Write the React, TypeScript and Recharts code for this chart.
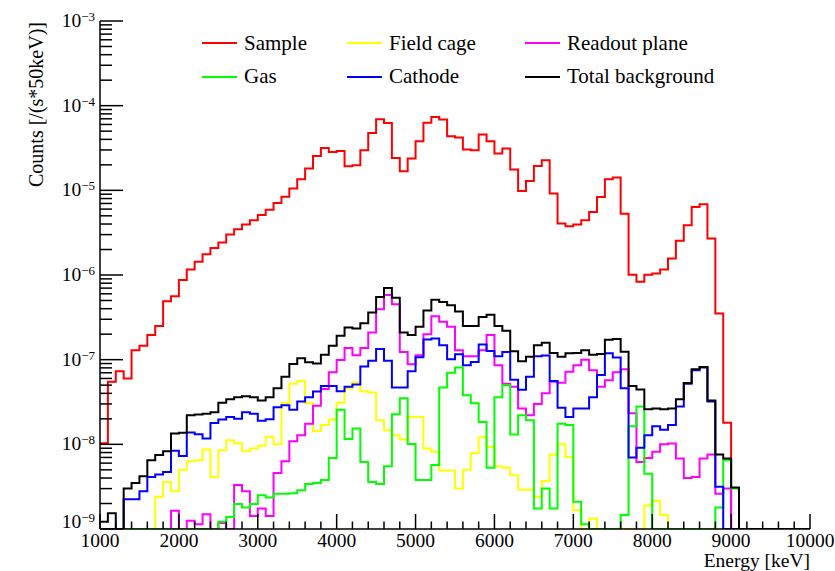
import React from 'react';
import { LineChart, Line, XAxis, YAxis, Legend } from 'recharts';

// ---------- data (bins of 100 keV, lower edges 1000 ... 9900) ----------
const ENERGY_MIN = 1000;
const ENERGY_MAX = 10000;
const BIN_WIDTH = 100;

const sample = [
  1.03e-8, 5.5e-8, 7.3e-8, 6.0e-8, 1.29e-7, 1.46e-7, 1.95e-7, 2.5e-7, 4.9e-7, 5.6e-7,
  8.7e-7, 1.16e-6, 1.43e-6, 1.76e-6, 2.09e-6, 2.42e-6, 3.0e-6, 3.47e-6, 3.95e-6, 4.44e-6,
  5.1e-6, 5.9e-6, 7.1e-6, 8.4e-6, 1.05e-5, 1.35e-5, 1.81e-5, 2.55e-5, 3.17e-5, 2.84e-5,
  2.92e-5, 1.93e-5, 1.98e-5, 2.97e-5, 4.76e-5, 6.9e-5, 6.25e-5, 2.41e-5, 1.68e-5, 2.37e-5,
  3.8e-5, 6.3e-5, 7.36e-5, 6.85e-5, 4.35e-5, 4.2e-5, 3.03e-5, 2.97e-5, 4.56e-5, 3.8e-5,
  2.72e-5, 3.12e-5, 1.76e-5, 9.8e-6, 1.29e-5, 1.94e-5, 2.26e-5, 9.2e-6, 4.06e-6, 3.77e-6,
  3.95e-6, 4.44e-6, 5.56e-6, 8.36e-6, 1.35e-5, 1.42e-5, 5.3e-6, 1.01e-6, 8.3e-7, 1.01e-6,
  1.04e-6, 1.16e-6, 1.57e-6, 2.53e-6, 3.87e-6, 6.37e-6, 6.86e-6, 2.7e-6, 3.5e-7, 1.8e-8,
  0, 0, 0, 0, 0, 0, 0, 0, 0, 0,
];

const fieldCage = [
  0, 0, 0, 0, 0, 0, 0, 2.4e-9, 3.6e-9, 2.8e-9,
  5.0e-9, 6.3e-9, 6.5e-9, 8.7e-9, 4.1e-9, 8.5e-9, 1.12e-8, 1.03e-8, 8.3e-9, 8.9e-9,
  9.6e-9, 1.23e-8, 1.0e-8, 3.06e-8, 5.2e-8, 5.6e-8, 3.06e-8, 1.43e-8, 1.69e-8, 1.97e-8,
  3.1e-8, 4.55e-8, 5.4e-8, 4.25e-8, 4.1e-8, 1.93e-8, 1.47e-8, 1.28e-8, 1.14e-8, 2.1e-8,
  2.1e-8, 8.9e-9, 8.2e-9, 4.9e-9, 4.9e-9, 3.0e-9, 5.0e-9, 7.9e-9, 1.21e-8, 9.3e-9,
  5.5e-9, 5.3e-9, 4.3e-9, 2.9e-9, 2.9e-9, 2.4e-9, 3.7e-9, 7.6e-9, 1.0e-8, 7.1e-9,
  1.67e-9, 0, 1.33e-9, 0, 0, 0, 0, 0, 0, 1.9e-9,
  2.15e-9, 1.46e-9, 0, 0, 0, 0, 0, 0, 0, 0,
  0, 0, 0, 0, 0, 0, 0, 0, 0, 0,
];

const readoutPlane = [
  0, 0, 0, 0, 0, 0, 0, 0, 0, 1.64e-9,
  0, 1.25e-9, 1.14e-9, 1.49e-9, 0, 1.18e-9, 0, 3.3e-9, 2.8e-9, 1.42e-9,
  1.75e-9, 1.42e-9, 4.6e-9, 6.3e-9, 1.09e-8, 1.28e-8, 1.75e-8, 2.86e-8, 4.5e-8, 7.1e-8,
  9.9e-8, 1.37e-7, 1.13e-7, 1.37e-7, 2.1e-7, 3.95e-7, 5.8e-7, 4.5e-7, 1.23e-7, 8.85e-8,
  1.13e-7, 2.0e-7, 3.26e-7, 2.8e-7, 2.44e-7, 1.29e-7, 1.1e-7, 1.1e-7, 1.29e-7, 1.95e-7,
  8.6e-8, 5.2e-8, 4.8e-8, 2.65e-8, 2.2e-8, 3.0e-8, 4.0e-8, 5.5e-8, 5.35e-8, 7.2e-8,
  8.6e-8, 1.0e-7, 7.5e-8, 4.8e-8, 5.7e-8, 7.1e-8, 7.7e-8, 2.33e-8, 6.2e-9, 6.9e-9,
  8.2e-9, 1.0e-8, 1.02e-8, 6.8e-9, 4.0e-9, 4.1e-9, 6.8e-9, 7.6e-9, 2.6e-9, 3.0e-9,
  0, 0, 0, 0, 0, 0, 0, 0, 0, 0,
];

const gas = [
  0, 0, 0, 0, 0, 0, 0, 0, 0, 0,
  0, 0, 0, 0, 0, 1.22e-9, 1.39e-9, 1.97e-9, 1.8e-9, 1.97e-9,
  2.5e-9, 2.36e-9, 2.6e-9, 2.6e-9, 2.65e-9, 2.86e-9, 3.4e-9, 3.5e-9, 3.8e-9, 6.9e-9,
  2.57e-8, 1.16e-8, 1.54e-8, 6.2e-9, 3.6e-9, 3.4e-9, 5.5e-9, 2.27e-8, 3.5e-8, 1.01e-8,
  3.8e-9, 3.8e-9, 5.7e-9, 4.7e-8, 7.0e-8, 8.1e-8, 3.8e-8, 3.05e-8, 1.84e-8, 5.3e-9,
  3.6e-8, 5.0e-8, 1.31e-8, 2.2e-8, 1.93e-8, 1.75e-9, 3.0e-9, 1.75e-9, 1.75e-8, 1.69e-8,
  2.1e-9, 1.14e-9, 0, 0, 0, 0, 1.46e-9, 1.64e-8, 2.8e-8, 4.5e-9,
  0, 0, 0, 0, 0, 0, 0, 0, 1.8e-9, 6.5e-9,
  3.0e-9, 0, 0, 0, 0, 0, 0, 0, 0, 0,
];

const cathode = [
  0, 0, 0, 2.24e-9, 2.24e-9, 2.8e-9, 4.1e-9, 4.4e-9, 4.7e-9, 8.4e-9,
  7.3e-9, 1.38e-8, 1.32e-8, 1.17e-8, 1.79e-8, 1.97e-8, 2.1e-8, 2.0e-8, 2.4e-8, 2.3e-8,
  1.9e-8, 1.98e-8, 2.75e-8, 2.9e-8, 2.57e-8, 3.2e-8, 3.6e-8, 4.2e-8, 4.9e-8, 4.9e-8,
  4.25e-8, 4.8e-8, 5.1e-8, 8.3e-8, 9.7e-8, 1.34e-7, 9.7e-8, 4.7e-8, 4.7e-8, 7.3e-8,
  1.07e-7, 1.73e-7, 1.78e-7, 1.48e-7, 1.01e-7, 1.16e-7, 8.6e-8, 9.4e-8, 1.51e-7, 1.27e-7,
  1.1e-7, 1.23e-7, 5.8e-8, 4.4e-8, 6.3e-8, 1.1e-7, 1.12e-7, 5.6e-8, 2.7e-8, 2.1e-8,
  2.65e-8, 2.65e-8, 3.6e-8, 6.6e-8, 1.19e-7, 1.06e-7, 4.6e-8, 7.0e-9, 9.1e-9, 1.28e-8,
  1.64e-8, 1.49e-8, 1.69e-8, 2.8e-8, 5.2e-8, 7.5e-8, 8.1e-8, 3.2e-8, 3.15e-9, 0,
  0, 0, 0, 0, 0, 0, 0, 0, 0, 0,
];

const totalBackground = [
  1.22e-9, 1.53e-9, 0, 3.0e-9, 3.5e-9, 4.2e-9, 6.5e-9, 7.5e-9, 8.3e-9, 1.34e-8,
  1.37e-8, 2.2e-8, 2.25e-8, 2.3e-8, 2.4e-8, 3.1e-8, 3.4e-8, 3.6e-8, 3.7e-8, 3.6e-8,
  3.3e-8, 3.6e-8, 4.6e-8, 6.3e-8, 8.9e-8, 1.04e-7, 9.3e-8, 9.0e-8, 1.14e-7, 1.46e-7,
  1.92e-7, 2.4e-7, 2.33e-7, 2.7e-7, 3.6e-7, 5.5e-7, 7.0e-7, 5.4e-7, 2.1e-7, 1.95e-7,
  2.44e-7, 3.8e-7, 5.1e-7, 4.8e-7, 4.4e-7, 3.7e-7, 2.5e-7, 2.5e-7, 3.2e-7, 3.4e-7,
  2.5e-7, 2.2e-7, 1.26e-7, 9.6e-8, 1.08e-7, 1.48e-7, 1.58e-7, 1.2e-7, 1.08e-7, 1.19e-7,
  1.2e-7, 1.29e-7, 1.14e-7, 1.17e-7, 1.72e-7, 1.76e-7, 1.24e-7, 4.9e-8, 4.45e-8, 2.6e-8,
  2.65e-8, 2.6e-8, 2.65e-8, 3.4e-8, 5.3e-8, 7.7e-8, 8.2e-8, 3.3e-8, 7.6e-9, 6.8e-9,
  3.1e-9, 0, 0, 0, 0, 0, 0, 0, 0, 0,
];

const xMajorTicks = [1000, 2000, 3000, 4000, 5000, 6000, 7000, 8000, 9000, 10000];
const yMajorTicks = [1e-9, 1e-8, 1e-7, 1e-6, 1e-5, 1e-4, 1e-3];

const seriesList = [
  { key: 'sample', name: 'Sample', color: '#ff0000', values: sample },
  { key: 'fieldCage', name: 'Field cage', color: '#ffff00', values: fieldCage },
  { key: 'readout', name: 'Readout plane', color: '#ff00ff', values: readoutPlane },
  { key: 'gas', name: 'Gas', color: '#00ff00', values: gas },
  { key: 'cathode', name: 'Cathode', color: '#0000ff', values: cathode },
  { key: 'total', name: 'Total background', color: '#000000', values: totalBackground },
];

// ---------- derived ----------
const Y_FLOOR = yMajorTicks[0];
const Y_CEIL = yMajorTicks[yMajorTicks.length - 1];
const Y_FLOOR_EXP = Math.round(Math.log10(Y_FLOOR));

const rows: any[] = [];
for (let i = 0; i <= sample.length; i++) {
  const row: any = { energy: ENERGY_MIN + i * BIN_WIDTH };
  for (const s of seriesList) {
    const v = s.values[Math.min(i, s.values.length - 1)];
    row[s.key] = v > 0 ? v : Y_FLOOR;
  }
  rows.push(row);
}

const xTicks: number[] = [];
for (let e = ENERGY_MIN; e <= ENERGY_MAX; e += 200) xTicks.push(e);
const xMajorSet = new Set(xMajorTicks);

const yTicks: number[] = [];
for (let d = 0; d < yMajorTicks.length - 1; d++) {
  for (let m = 1; m <= 9; m++) yTicks.push(m * yMajorTicks[d]);
}
yTicks.push(Y_CEIL);

const FONT = "'Liberation Serif', Tinos, 'Times New Roman', 'DejaVu Serif', 'Noto Serif', serif";
const AXIS_W = 1.5;
const textStyle = { fontFamily: FONT } as React.CSSProperties;

const XTick = (props: any) => {
  const { x, y, payload } = props;
  const v = payload.value;
  const major = xMajorSet.has(Math.round(v));
  return (
    <g>
      <line x1={x} x2={x} y1={y} y2={y - (major ? 15 : 7.5)} stroke="#000" strokeWidth={AXIS_W} />
      {major && (
        <text x={x} y={y + 18} textAnchor="middle" style={textStyle} fontSize={19.5} fill="#000">
          {v}
        </text>
      )}
    </g>
  );
};

const YTick = (props: any) => {
  const { x, y, payload } = props;
  const v = payload.value;
  const lg = Math.log10(v);
  const exp = Math.round(lg);
  const major = Math.abs(lg - exp) < 1e-6;
  // the lowest label is lifted a little (as in the original) so it clears the x labels
  const baseline = exp === Y_FLOOR_EXP ? y - 1.5 : y + 6;
  return (
    <g>
      <line x1={x} x2={x + (major ? 23 : 12)} y1={y} y2={y} stroke="#000" strokeWidth={AXIS_W} />
      {major && (
        <text x={x - 5} y={baseline} textAnchor="end" style={textStyle} fontSize={19.5} fill="#000">
          <tspan>10</tspan>
          <tspan dy={-6} fontSize={13}>{'\u2212' + String(-exp)}</tspan>
        </text>
      )}
    </g>
  );
};

const XTitle = (props: any) => {
  const vb = props.viewBox || { x: 100, y: 529, width: 710, height: 42 };
  return (
    <text x={vb.x + vb.width} y={vb.y + 38} textAnchor="end" style={textStyle} fontSize={19.5} fill="#000">
      Energy [keV]
    </text>
  );
};

const YTitle = (props: any) => {
  const vb = props.viewBox || { x: 0, y: 21, width: 100, height: 508 };
  const tx = vb.x + 43;
  const ty = vb.y + 1;
  return (
    <text x={tx} y={ty} textAnchor="end" transform={`rotate(-90, ${tx}, ${ty})`} style={textStyle} fontSize={20} fill="#000">
      Counts [/(s*50keV)]
    </text>
  );
};

const LegendBox = () => (
  <div
    style={{
      position: 'absolute',
      left: 202,
      top: 26.5,
      display: 'grid',
      gridTemplateColumns: '145px 178px 240px',
      gridAutoRows: '33.5px',
      fontFamily: FONT,
      fontSize: 21,
      color: '#000',
      pointerEvents: 'none',
    }}
  >
    {seriesList.map((s) => (
      <div key={s.key} style={{ display: 'flex', alignItems: 'center', whiteSpace: 'nowrap', lineHeight: 1 }}>
        <div style={{ width: 35, height: 2, background: s.color, marginRight: 7 }} />
        <span>{s.name}</span>
      </div>
    ))}
  </div>
);

export default function App() {
  return (
    <div style={{ position: 'absolute', left: 0, top: 0, width: 835, height: 571, background: '#fff', fontFamily: FONT }}>
      <LineChart width={835} height={571} data={rows} margin={{ top: 21, right: 25, left: 0, bottom: 0 }}>
        <XAxis
          dataKey="energy"
          type="number"
          domain={[ENERGY_MIN, ENERGY_MAX]}
          allowDataOverflow
          ticks={xTicks}
          interval={0}
          tickLine={false}
          tickSize={0}
          tickMargin={0}
          tick={<XTick />}
          height={42}
          axisLine={{ stroke: '#000', strokeWidth: AXIS_W }}
          label={XTitle}
        />
        <XAxis
          xAxisId="top"
          orientation="top"
          type="number"
          domain={[ENERGY_MIN, ENERGY_MAX]}
          height={0}
          tick={false}
          tickLine={false}
          axisLine={{ stroke: '#000', strokeWidth: AXIS_W }}
        />
        <YAxis
          scale="log"
          type="number"
          domain={[Y_FLOOR, Y_CEIL]}
          allowDataOverflow
          ticks={yTicks}
          interval={0}
          tickLine={false}
          tickSize={0}
          tickMargin={0}
          tick={<YTick />}
          width={100}
          axisLine={{ stroke: '#000', strokeWidth: AXIS_W }}
          label={YTitle}
        />
        <YAxis
          yAxisId="right"
          orientation="right"
          type="number"
          domain={[0, 1]}
          width={0}
          tick={false}
          tickLine={false}
          axisLine={{ stroke: '#000', strokeWidth: AXIS_W }}
        />
        <Legend
          layout="vertical"
          align="center"
          verticalAlign="middle"
          wrapperStyle={{ left: 0, top: 0, width: 835, height: 100 }}
          content={() => <LegendBox />}
        />
        {seriesList.map((s) => (
          <Line
            key={s.key}
            dataKey={s.key}
            name={s.name}
            type="stepAfter"
            stroke={s.color}
            strokeWidth={2}
            dot={false}
            activeDot={false}
            isAnimationActive={false}
          />
        ))}
      </LineChart>
    </div>
  );
}
